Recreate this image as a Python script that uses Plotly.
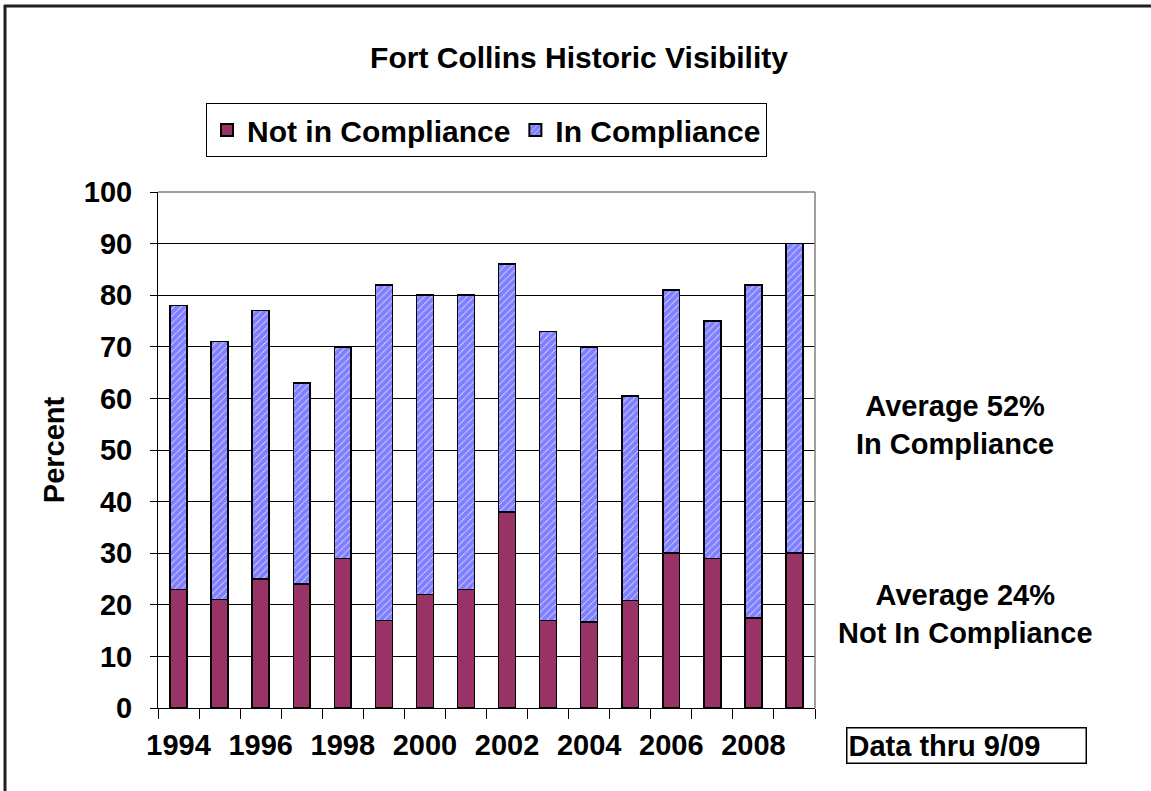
import plotly.graph_objects as go

years = list(range(1994, 2010))
not_in_compliance = [23, 21, 25, 24, 29, 17, 22, 23, 38, 17, 16.7, 20.8, 30, 29, 17.4, 30]
in_compliance = [55, 50, 52, 39, 41, 65, 58, 57, 48, 56, 53.3, 39.7, 51, 46, 64.6, 60]
x_tick_vals = [1994, 1996, 1998, 2000, 2002, 2004, 2006, 2008]
x_tick_text = [str(v) for v in x_tick_vals]
y_tick_vals = list(range(0, 101, 10))

FONT = "Liberation Sans, Arial, sans-serif"

# plot area in pixels
L, R, T, B = 158, 815, 192, 708
W, H = 1151, 791


def px(x):
    return (x - L) / (R - L)


def py(y):
    return (B - y) / (B - T)


fig = go.Figure()
fig.add_trace(go.Bar(
    x=years, y=not_in_compliance, name="Not in Compliance",
    marker=dict(color="#993366", line=dict(color="#000000", width=1.5)),
))
fig.add_trace(go.Bar(
    x=years, y=in_compliance, name="In Compliance",
    marker=dict(color="#ffffff", line=dict(color="#000000", width=1.5),
                pattern=dict(shape="/", fgcolor="#0000ff", bgcolor="#ffffff",
                             size=5, solidity=0.9)),
))

fig.update_layout(
    width=W, height=H,
    barmode="stack", bargap=0.59,
    paper_bgcolor="white", plot_bgcolor="white",
    margin=dict(l=L, r=W - R, t=T, b=H - B, pad=0),
    font=dict(family=FONT, color="black", size=29, weight="bold"),
    title=dict(text="Fort Collins Historic Visibility", x=px(579), xref="paper", xanchor="center",
               y=1 - 57 / H, yanchor="middle", font=dict(size=30, weight="bold")),
    legend=dict(orientation="h", x=px(206), y=py(103), xanchor="left", yanchor="top",
                bordercolor="black", borderwidth=1, bgcolor="white",
                font=dict(size=30, weight="bold"), traceorder="normal",
                itemsizing="constant"),
    xaxis=dict(range=[1993.5, 2009.5], tickmode="array", tickvals=x_tick_vals, ticktext=x_tick_text,
               ticks="outside", ticklen=11, tickcolor="rgba(0,0,0,0)",
               tickfont=dict(size=29, weight="bold"),
               showline=True, linecolor="black", linewidth=1, showgrid=False, zeroline=False,
               minor=dict(tickmode="array", tickvals=[y + 0.5 for y in range(1993, 2010)],
                          ticks="outside", ticklen=10, tickcolor="black", tickwidth=1, showgrid=False)),
    yaxis=dict(range=[0, 100], tickmode="array", tickvals=y_tick_vals,
               ticks="outside", ticklen=7, tickcolor="black", ticklabelstandoff=12,
               tickfont=dict(size=29, weight="bold"),
               showline=True, linecolor="black", linewidth=1, showgrid=True, gridcolor="#000000",
               gridwidth=1, zeroline=False,
               title=dict(text="Percent", standoff=10, font=dict(size=29, weight="bold"))),
)

# plot area border (top/right in grey)
fig.add_shape(type="line", xref="paper", yref="paper", x0=0, x1=1, y0=1, y1=1,
              line=dict(color="#808080", width=1.5))
fig.add_shape(type="line", xref="paper", yref="paper", x0=1, x1=1, y0=0, y1=1,
              line=dict(color="#808080", width=1.5))

# outer frame (left and top)
fig.add_shape(type="line", xref="paper", yref="paper", x0=px(5), x1=px(5), y0=py(H + 5), y1=py(5),
              line=dict(color="#231f20", width=3))
fig.add_shape(type="line", xref="paper", yref="paper", x0=px(4), x1=px(W + 5), y0=py(6), y1=py(6),
              line=dict(color="#231f20", width=3))

fig.add_annotation(text="Average 52%<br>In Compliance", xref="paper", yref="paper",
                   x=px(955), y=py(425), xanchor="center", yanchor="middle", showarrow=False,
                   font=dict(size=29, weight="bold"), align="center")
fig.add_annotation(text="Average 24%<br>Not In Compliance", xref="paper", yref="paper",
                   x=px(965), y=py(614), xanchor="center", yanchor="middle", showarrow=False,
                   font=dict(size=29, weight="bold"), align="center")
fig.add_annotation(text="Data thru 9/09", xref="paper", yref="paper",
                   x=px(966), y=py(745), xanchor="center", yanchor="middle", showarrow=False,
                   font=dict(size=29, weight="bold"),
                   align="left", width=236, height=32, bordercolor="black", borderwidth=1.5,
                   borderpad=1, bgcolor="white")

fig.write_html("out.html", config={"displayModeBar": False},
               post_script="document.body.style.margin='0';")
